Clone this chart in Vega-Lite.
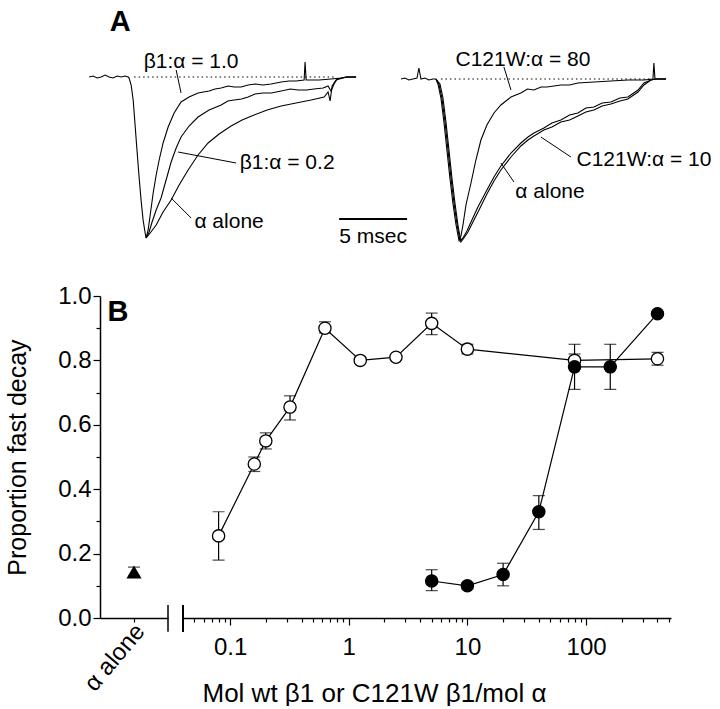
{
  "$schema": "https://vega.github.io/schema/vega-lite/v6.json",
  "background": "white",
  "padding": {"left": 5, "top": 0, "right": 0, "bottom": 0},
  "config": {
    "view": {"stroke": null},
    "font": "Liberation Sans",
    "axis": {
      "labelFont": "Liberation Sans", "titleFont": "Liberation Sans",
      "labelColor": "black", "titleColor": "black", "domainColor": "black", "tickColor": "black",
      "domainWidth": 1.5, "tickWidth": 1.2, "grid": false,
      "labelFontSize": 24, "titleFontSize": 25, "titleFontWeight": "normal", "labelOverlap": false
    },
    "text": {"font": "Liberation Sans", "color": "black"}
  },
  "datasets": {
    "traces": [
      {"panel":"L","trace":"L0","t":0,"i":0},{"panel":"L","trace":"L0","t":0.29,"i":1},{"panel":"L","trace":"L0","t":0.59,"i":-1},{"panel":"L","trace":"L0","t":0.88,"i":0},{"panel":"L","trace":"L0","t":1.18,"i":2},{"panel":"L","trace":"L0","t":1.47,"i":0},{"panel":"L","trace":"L0","t":1.76,"i":-1},{"panel":"L","trace":"L0","t":2.06,"i":1},{"panel":"L","trace":"L0","t":2.35,"i":0},{"panel":"L","trace":"L0","t":2.65,"i":1},{"panel":"L","trace":"L0","t":2.87,"i":0},{"panel":"L","trace":"L0","t":2.94,"i":-1},{"panel":"L","trace":"L0","t":3.09,"i":-8},{"panel":"L","trace":"L0","t":3.24,"i":-23},{"panel":"L","trace":"L0","t":3.38,"i":-48},{"panel":"L","trace":"L0","t":3.53,"i":-75},{"panel":"L","trace":"L0","t":3.68,"i":-101},{"panel":"L","trace":"L0","t":3.82,"i":-123},{"panel":"L","trace":"L0","t":3.97,"i":-143},{"panel":"L","trace":"L0","t":4.12,"i":-156},{"panel":"L","trace":"L0","t":4.19,"i":-161},

      {"panel":"L","trace":"L1","t":4.19,"i":-161},{"panel":"L","trace":"L1","t":4.34,"i":-153},{"panel":"L","trace":"L1","t":4.49,"i":-138},{"panel":"L","trace":"L1","t":4.71,"i":-116},{"panel":"L","trace":"L1","t":4.93,"i":-98},{"panel":"L","trace":"L1","t":5.15,"i":-83},{"panel":"L","trace":"L1","t":5.44,"i":-66},{"panel":"L","trace":"L1","t":5.81,"i":-50},{"panel":"L","trace":"L1","t":6.25,"i":-36},{"panel":"L","trace":"L1","t":6.76,"i":-25},{"panel":"L","trace":"L1","t":7.35,"i":-20},{"panel":"L","trace":"L1","t":8.01,"i":-16},{"panel":"L","trace":"L1","t":8.82,"i":-14},{"panel":"L","trace":"L1","t":9.26,"i":-12},{"panel":"L","trace":"L1","t":9.71,"i":-11},{"panel":"L","trace":"L1","t":10.22,"i":-9},{"panel":"L","trace":"L1","t":10.66,"i":-10},{"panel":"L","trace":"L1","t":11.18,"i":-10},{"panel":"L","trace":"L1","t":11.69,"i":-8},{"panel":"L","trace":"L1","t":12.21,"i":-7},{"panel":"L","trace":"L1","t":12.79,"i":-8},{"panel":"L","trace":"L1","t":13.38,"i":-7},{"panel":"L","trace":"L1","t":14.12,"i":-5},{"panel":"L","trace":"L1","t":14.71,"i":-4},{"panel":"L","trace":"L1","t":15.22,"i":-4},{"panel":"L","trace":"L1","t":15.81,"i":-3},{"panel":"L","trace":"L1","t":15.88,"i":15},{"panel":"L","trace":"L1","t":15.96,"i":-3},{"panel":"L","trace":"L1","t":16.91,"i":-3},{"panel":"L","trace":"L1","t":17.79,"i":-2},{"panel":"L","trace":"L1","t":18.53,"i":-1},{"panel":"L","trace":"L1","t":19.12,"i":0},{"panel":"L","trace":"L1","t":19.63,"i":0},

      {"panel":"L","trace":"L2","t":4.19,"i":-161},{"panel":"L","trace":"L2","t":4.41,"i":-155},{"panel":"L","trace":"L2","t":4.63,"i":-145},{"panel":"L","trace":"L2","t":4.93,"i":-133},{"panel":"L","trace":"L2","t":5.29,"i":-121},{"panel":"L","trace":"L2","t":5.66,"i":-103},{"panel":"L","trace":"L2","t":6.03,"i":-85},{"panel":"L","trace":"L2","t":6.4,"i":-71},{"panel":"L","trace":"L2","t":6.76,"i":-60},{"panel":"L","trace":"L2","t":7.35,"i":-49},{"panel":"L","trace":"L2","t":8.01,"i":-40},{"panel":"L","trace":"L2","t":8.82,"i":-33},{"panel":"L","trace":"L2","t":9.71,"i":-28},{"panel":"L","trace":"L2","t":10.2,"i":-24},{"panel":"L","trace":"L2","t":10.66,"i":-23},{"panel":"L","trace":"L2","t":11.2,"i":-22},{"panel":"L","trace":"L2","t":11.69,"i":-20},{"panel":"L","trace":"L2","t":12.2,"i":-17},{"panel":"L","trace":"L2","t":12.79,"i":-16},{"panel":"L","trace":"L2","t":13.4,"i":-16},{"panel":"L","trace":"L2","t":14.12,"i":-14},{"panel":"L","trace":"L2","t":14.8,"i":-12},{"panel":"L","trace":"L2","t":15.37,"i":-13},{"panel":"L","trace":"L2","t":16.0,"i":-13},{"panel":"L","trace":"L2","t":16.54,"i":-12},{"panel":"L","trace":"L2","t":17.21,"i":-11},{"panel":"L","trace":"L2","t":17.57,"i":-9},{"panel":"L","trace":"L2","t":17.79,"i":-14},{"panel":"L","trace":"L2","t":18.01,"i":-7},{"panel":"L","trace":"L2","t":18.24,"i":-2},{"panel":"L","trace":"L2","t":18.9,"i":0},{"panel":"L","trace":"L2","t":19.63,"i":0},

      {"panel":"L","trace":"L3","t":4.19,"i":-161},{"panel":"L","trace":"L3","t":4.49,"i":-156},{"panel":"L","trace":"L3","t":4.93,"i":-148},{"panel":"L","trace":"L3","t":5.44,"i":-135},{"panel":"L","trace":"L3","t":6.03,"i":-123},{"panel":"L","trace":"L3","t":6.62,"i":-108},{"panel":"L","trace":"L3","t":7.28,"i":-93},{"panel":"L","trace":"L3","t":8.01,"i":-78},{"panel":"L","trace":"L3","t":8.75,"i":-66},{"panel":"L","trace":"L3","t":9.56,"i":-57},{"panel":"L","trace":"L3","t":10.44,"i":-49},{"panel":"L","trace":"L3","t":11.25,"i":-43},{"panel":"L","trace":"L3","t":12.13,"i":-38},{"panel":"L","trace":"L3","t":13.09,"i":-33},{"panel":"L","trace":"L3","t":14.12,"i":-29},{"panel":"L","trace":"L3","t":15.22,"i":-26},{"panel":"L","trace":"L3","t":16.32,"i":-23},{"panel":"L","trace":"L3","t":17.28,"i":-20},{"panel":"L","trace":"L3","t":17.57,"i":-15},{"panel":"L","trace":"L3","t":17.72,"i":-24},{"panel":"L","trace":"L3","t":17.87,"i":-9},{"panel":"L","trace":"L3","t":18.16,"i":-3},{"panel":"L","trace":"L3","t":18.9,"i":0},{"panel":"L","trace":"L3","t":19.63,"i":0},

      {"panel":"R","trace":"R0","t":0,"i":-2},{"panel":"R","trace":"R0","t":0.29,"i":-1},{"panel":"R","trace":"R0","t":0.59,"i":-3},{"panel":"R","trace":"R0","t":0.88,"i":-2},{"panel":"R","trace":"R0","t":1.18,"i":-1},{"panel":"R","trace":"R0","t":1.32,"i":9},{"panel":"R","trace":"R0","t":1.47,"i":-2},{"panel":"R","trace":"R0","t":1.76,"i":-1},{"panel":"R","trace":"R0","t":2.06,"i":-3},{"panel":"R","trace":"R0","t":2.35,"i":-2},{"panel":"R","trace":"R0","t":2.57,"i":-2},

      {"panel":"R","trace":"R1","t":2.57,"i":-2},{"panel":"R","trace":"R1","t":2.72,"i":-7},{"panel":"R","trace":"R1","t":2.94,"i":-21},{"panel":"R","trace":"R1","t":3.16,"i":-45},{"panel":"R","trace":"R1","t":3.38,"i":-73},{"panel":"R","trace":"R1","t":3.6,"i":-101},{"panel":"R","trace":"R1","t":3.82,"i":-126},{"panel":"R","trace":"R1","t":4.04,"i":-147},{"panel":"R","trace":"R1","t":4.26,"i":-163},{"panel":"R","trace":"R1","t":4.41,"i":-159},{"panel":"R","trace":"R1","t":4.56,"i":-148},{"panel":"R","trace":"R1","t":4.78,"i":-128},{"panel":"R","trace":"R1","t":5.15,"i":-106},{"panel":"R","trace":"R1","t":5.51,"i":-83},{"panel":"R","trace":"R1","t":5.88,"i":-63},{"panel":"R","trace":"R1","t":6.32,"i":-48},{"panel":"R","trace":"R1","t":6.84,"i":-36},{"panel":"R","trace":"R1","t":7.35,"i":-28},{"panel":"R","trace":"R1","t":8.09,"i":-20},{"panel":"R","trace":"R1","t":8.82,"i":-16},{"panel":"R","trace":"R1","t":9.3,"i":-12},{"panel":"R","trace":"R1","t":9.78,"i":-13},{"panel":"R","trace":"R1","t":10.3,"i":-10},{"panel":"R","trace":"R1","t":10.74,"i":-10},{"panel":"R","trace":"R1","t":11.76,"i":-8},{"panel":"R","trace":"R1","t":12.4,"i":-8},{"panel":"R","trace":"R1","t":13.01,"i":-6},{"panel":"R","trace":"R1","t":14.19,"i":-5},{"panel":"R","trace":"R1","t":15.44,"i":-4},{"panel":"R","trace":"R1","t":16.69,"i":-3},{"panel":"R","trace":"R1","t":17.87,"i":-3},{"panel":"R","trace":"R1","t":18.53,"i":-2},{"panel":"R","trace":"R1","t":18.6,"i":14},{"panel":"R","trace":"R1","t":18.68,"i":-2},{"panel":"R","trace":"R1","t":19.12,"i":-2},{"panel":"R","trace":"R1","t":19.49,"i":-2},

      {"panel":"R","trace":"R2","t":2.57,"i":-2},{"panel":"R","trace":"R2","t":2.79,"i":-7},{"panel":"R","trace":"R2","t":3.01,"i":-21},{"panel":"R","trace":"R2","t":3.24,"i":-45},{"panel":"R","trace":"R2","t":3.46,"i":-73},{"panel":"R","trace":"R2","t":3.68,"i":-101},{"panel":"R","trace":"R2","t":3.9,"i":-126},{"panel":"R","trace":"R2","t":4.12,"i":-147},{"panel":"R","trace":"R2","t":4.34,"i":-164},{"panel":"R","trace":"R2","t":4.56,"i":-161},{"panel":"R","trace":"R2","t":4.85,"i":-154},{"panel":"R","trace":"R2","t":5.15,"i":-145},{"panel":"R","trace":"R2","t":5.66,"i":-130},{"panel":"R","trace":"R2","t":6.32,"i":-113},{"panel":"R","trace":"R2","t":6.84,"i":-100},{"panel":"R","trace":"R2","t":7.35,"i":-89},{"panel":"R","trace":"R2","t":8.09,"i":-76},{"panel":"R","trace":"R2","t":8.82,"i":-66},{"panel":"R","trace":"R2","t":9.34,"i":-60},{"panel":"R","trace":"R2","t":9.78,"i":-56},{"panel":"R","trace":"R2","t":10.51,"i":-51},{"panel":"R","trace":"R2","t":11.1,"i":-46},{"panel":"R","trace":"R2","t":11.76,"i":-43},{"panel":"R","trace":"R2","t":12.4,"i":-38},{"panel":"R","trace":"R2","t":13.01,"i":-36},{"panel":"R","trace":"R2","t":13.6,"i":-31},{"panel":"R","trace":"R2","t":14.19,"i":-30},{"panel":"R","trace":"R2","t":14.8,"i":-26},{"panel":"R","trace":"R2","t":15.44,"i":-25},{"panel":"R","trace":"R2","t":16.1,"i":-21},{"panel":"R","trace":"R2","t":16.69,"i":-20},{"panel":"R","trace":"R2","t":17.43,"i":-13},{"panel":"R","trace":"R2","t":17.87,"i":-6},{"panel":"R","trace":"R2","t":18.38,"i":-3},{"panel":"R","trace":"R2","t":18.75,"i":-2},{"panel":"R","trace":"R2","t":19.49,"i":-2},

      {"panel":"R","trace":"R3","t":2.57,"i":-2},{"panel":"R","trace":"R3","t":2.87,"i":-7},{"panel":"R","trace":"R3","t":3.09,"i":-21},{"panel":"R","trace":"R3","t":3.31,"i":-45},{"panel":"R","trace":"R3","t":3.53,"i":-73},{"panel":"R","trace":"R3","t":3.75,"i":-101},{"panel":"R","trace":"R3","t":3.97,"i":-126},{"panel":"R","trace":"R3","t":4.19,"i":-148},{"panel":"R","trace":"R3","t":4.41,"i":-165},{"panel":"R","trace":"R3","t":4.63,"i":-161},{"panel":"R","trace":"R3","t":4.93,"i":-155},{"panel":"R","trace":"R3","t":5.22,"i":-147},{"panel":"R","trace":"R3","t":5.74,"i":-133},{"panel":"R","trace":"R3","t":6.32,"i":-117},{"panel":"R","trace":"R3","t":6.84,"i":-104},{"panel":"R","trace":"R3","t":7.35,"i":-93},{"panel":"R","trace":"R3","t":8.09,"i":-80},{"panel":"R","trace":"R3","t":8.82,"i":-69},{"panel":"R","trace":"R3","t":9.34,"i":-63},{"panel":"R","trace":"R3","t":9.78,"i":-59},{"panel":"R","trace":"R3","t":10.51,"i":-53},{"panel":"R","trace":"R3","t":11.1,"i":-50},{"panel":"R","trace":"R3","t":11.76,"i":-45},{"panel":"R","trace":"R3","t":12.4,"i":-43},{"panel":"R","trace":"R3","t":13.01,"i":-39},{"panel":"R","trace":"R3","t":13.6,"i":-35},{"panel":"R","trace":"R3","t":14.19,"i":-33},{"panel":"R","trace":"R3","t":14.8,"i":-29},{"panel":"R","trace":"R3","t":15.44,"i":-27},{"panel":"R","trace":"R3","t":16.1,"i":-24},{"panel":"R","trace":"R3","t":16.69,"i":-22},{"panel":"R","trace":"R3","t":17.43,"i":-15},{"panel":"R","trace":"R3","t":17.87,"i":-8},{"panel":"R","trace":"R3","t":18.38,"i":-3},{"panel":"R","trace":"R3","t":18.75,"i":-2},{"panel":"R","trace":"R3","t":19.49,"i":-2}
    ],
    "labels": [
      {"panel":"L","text":"β1:α = 1.0","t":7.5,"i":15},
      {"panel":"L","text":"β1:α = 0.2","t":14.56,"i":-86},
      {"panel":"L","text":"α alone","t":10.29,"i":-145},
      {"panel":"L","text":"5 msec","t":20.88,"i":-160},
      {"panel":"R","text":"C121W:α = 80","t":8.97,"i":17},
      {"panel":"R","text":"C121W:α = 10","t":17.87,"i":-83},
      {"panel":"R","text":"α alone","t":10.96,"i":-115}
    ],
    "tags": [
      {"panel":"L","text":"A","t":2.28,"i":55}
    ],
    "annot": [
      {"panel":"L","kind":"baseline","t":3.31,"t2":18.01,"i":0},
      {"panel":"L","kind":"scalebar","t":18.38,"t2":23.38,"i":-142},
      {"panel":"R","kind":"baseline","t":2.94,"t2":18.38,"i":-2}
    ],
    "leaders": [
      {"panel":"L","t":6.4,"i":7,"t2":6.76,"i2":-16},
      {"panel":"L","t":6.54,"i":-75,"t2":10.81,"i2":-86},
      {"panel":"L","t":6.03,"i":-121,"t2":7.5,"i2":-141},
      {"panel":"R","t":7.57,"i":10,"t2":8.09,"i2":-13},
      {"panel":"R","t":10.29,"i":-60,"t2":12.5,"i2":-80},
      {"panel":"R","t":7.35,"i":-86,"t2":8.31,"i2":-105}
    ],
    "decay": [
      {"construct":"wt β1","ratio":0.08,"p":0.255,"lo":0.18,"hi":0.33},
      {"construct":"wt β1","ratio":0.16,"p":0.478,"lo":0.455,"hi":0.5},
      {"construct":"wt β1","ratio":0.2,"p":0.55,"lo":0.525,"hi":0.575},
      {"construct":"wt β1","ratio":0.32,"p":0.655,"lo":0.615,"hi":0.69},
      {"construct":"wt β1","ratio":0.63,"p":0.9,"lo":0.885,"hi":0.92},
      {"construct":"wt β1","ratio":1.25,"p":0.8,"lo":0.792,"hi":0.81},
      {"construct":"wt β1","ratio":2.5,"p":0.81,"lo":0.81,"hi":0.81},
      {"construct":"wt β1","ratio":5,"p":0.915,"lo":0.88,"hi":0.947},
      {"construct":"wt β1","ratio":10,"p":0.835,"lo":0.82,"hi":0.85},
      {"construct":"wt β1","ratio":80,"p":0.8,"lo":0.78,"hi":0.82},
      {"construct":"wt β1","ratio":400,"p":0.805,"lo":0.785,"hi":0.825},
      {"construct":"C121W β1","ratio":5,"p":0.115,"lo":0.085,"hi":0.15},
      {"construct":"C121W β1","ratio":10,"p":0.1,"lo":0.09,"hi":0.11},
      {"construct":"C121W β1","ratio":20,"p":0.135,"lo":0.1,"hi":0.17},
      {"construct":"C121W β1","ratio":40,"p":0.33,"lo":0.275,"hi":0.38},
      {"construct":"C121W β1","ratio":80,"p":0.78,"lo":0.71,"hi":0.85},
      {"construct":"C121W β1","ratio":160,"p":0.78,"lo":0.71,"hi":0.85},
      {"construct":"C121W β1","ratio":400,"p":0.945,"lo":0.94,"hi":0.95}
    ],
    "alone": [
      {"group":"α alone","p":0.143,"lo":0.13,"hi":0.158}
    ]
  },
  "vconcat": [
    {
      "width": 566, "height": 250,
      "layer": [
        {
          "encoding": {
            "x": {"field": "t", "type": "quantitative", "scale": {"domain": [0.8, 42.42], "nice": false, "zero": false}, "axis": null},
            "y": {"field": "i", "type": "quantitative", "scale": {"domain": [-173, 77], "nice": false, "zero": false}, "axis": null}
          },
          "layer": [
            {"data": {"name": "traces"}, "transform": [{"filter": "datum.panel == 'L'"}],
             "mark": {"type": "line", "color": "black", "strokeWidth": 1.1},
             "encoding": {"detail": {"field": "trace"}}},
            {"data": {"name": "annot"}, "transform": [{"filter": "datum.panel == 'L' && datum.kind == 'baseline'"}],
             "mark": {"type": "rule", "color": "black", "strokeWidth": 1, "strokeDash": [1.5, 3]},
             "encoding": {"x2": {"field": "t2"}}},
            {"data": {"name": "annot"}, "transform": [{"filter": "datum.kind == 'scalebar'"}],
             "mark": {"type": "rule", "color": "black", "strokeWidth": 2.2},
             "encoding": {"x2": {"field": "t2"}}},
            {"data": {"name": "leaders"}, "transform": [{"filter": "datum.panel == 'L'"}],
             "mark": {"type": "rule", "color": "black", "strokeWidth": 1},
             "encoding": {"x2": {"field": "t2"}, "y2": {"field": "i2"}}},
            {"data": {"name": "labels"}, "transform": [{"filter": "datum.panel == 'L'"}],
             "mark": {"type": "text", "fontSize": 21, "align": "center", "baseline": "middle"},
             "encoding": {"text": {"field": "text"}}},
            {"data": {"name": "tags"},
             "mark": {"type": "text", "fontSize": 29, "fontWeight": "bold", "align": "center", "baseline": "middle"},
             "encoding": {"text": {"field": "text"}}}
          ]
        },
        {
          "encoding": {
            "x": {"field": "t", "type": "quantitative", "scale": {"domain": [-22.13, 19.49], "nice": false, "zero": false}, "axis": null},
            "y": {"field": "i", "type": "quantitative", "axis": null}
          },
          "layer": [
            {"data": {"name": "traces"}, "transform": [{"filter": "datum.panel == 'R'"}],
             "mark": {"type": "line", "color": "black", "strokeWidth": 1.1},
             "encoding": {"detail": {"field": "trace"}}},
            {"data": {"name": "annot"}, "transform": [{"filter": "datum.panel == 'R' && datum.kind == 'baseline'"}],
             "mark": {"type": "rule", "color": "black", "strokeWidth": 1, "strokeDash": [1.5, 3]},
             "encoding": {"x2": {"field": "t2"}}},
            {"data": {"name": "leaders"}, "transform": [{"filter": "datum.panel == 'R'"}],
             "mark": {"type": "rule", "color": "black", "strokeWidth": 1},
             "encoding": {"x2": {"field": "t2"}, "y2": {"field": "i2"}}},
            {"data": {"name": "labels"}, "transform": [{"filter": "datum.panel == 'R'"}],
             "mark": {"type": "text", "fontSize": 21, "align": "center", "baseline": "middle"},
             "encoding": {"text": {"field": "text"}}}
          ]
        }
      ],
      "resolve": {"scale": {"x": "independent"}}
    },
    {
      "hconcat": [
        {
          "width": 68, "height": 322,
          "data": {"name": "alone"},
          "encoding": {
            "y": {"field": "p", "type": "quantitative", "scale": {"domain": [0, 1], "nice": false},
                  "axis": {"title": "Proportion fast decay", "titlePadding": 27,
                           "values": [0,0.1,0.2,0.3,0.4,0.5,0.6,0.7,0.8,0.9,1.0],
                           "labelExpr": "round(datum.value*10) % 2 == 0 ? format(datum.value, '.1f') : ''",
                           "tickSize": {"condition": {"test": "round(datum.value*10) % 2 == 0", "value": 7}, "value": 4},
                           "labelPadding": 2}}
          },
          "layer": [
            {"mark": {"type": "errorbar", "color": "black", "ticks": {"size": 12}, "thickness": 1.2},
             "encoding": {
               "x": {"field": "group", "type": "nominal", "scale": {"type": "point", "padding": 0.5},
                     "axis": {"title": null, "labelAngle": -50, "labelOffset": 6, "tickSize": 4, "labelPadding": 5}},
               "y": {"field": "lo", "type": "quantitative"},
               "y2": {"field": "hi"}}},
            {"mark": {"type": "point", "shape": "triangle-up", "filled": true, "color": "black", "size": 230, "opacity": 1},
             "encoding": {"x": {"field": "group", "type": "nominal"}}},
            {"mark": {"type": "rule", "color": "black", "strokeWidth": 1.5},
             "encoding": {"x": {"value": "width"}, "y": {"datum": -0.043}, "y2": {"datum": 0.04}}},
            {"mark": {"type": "text", "fontSize": 29, "fontWeight": "bold", "align": "center", "baseline": "middle", "dx": -16},
             "encoding": {"x": {"datum": "α alone"}, "y": {"datum": 0.95}, "text": {"value": "B"}}}
          ]
        },
        {
          "width": 488, "height": 322,
          "data": {"name": "decay"},
          "encoding": {
            "x": {"field": "ratio", "type": "quantitative",
                  "scale": {"type": "log", "domain": [0.0401, 520], "nice": false},
                  "axis": {"title": "Mol wt β1 or C121W β1/mol α", "titleX": 191, "titlePadding": 21, "titleFontSize": 26,
                           "values": [0.05,0.06,0.07,0.08,0.09,0.1,0.2,0.3,0.4,0.5,0.6,0.7,0.8,0.9,1,2,3,4,5,6,7,8,9,10,20,30,40,50,60,70,80,90,100,200,300,400,500],
                           "labelExpr": "datum.value == 0.1 ? '0.1' : datum.value == 1 ? '1' : datum.value == 10 ? '10' : datum.value == 100 ? '100' : ''",
                           "tickSize": {"condition": {"test": "datum.value == 0.1 || datum.value == 1 || datum.value == 10 || datum.value == 100", "value": 7}, "value": 4},
                           "labelPadding": 10}},
            "y": {"field": "p", "type": "quantitative", "scale": {"domain": [0, 1], "nice": false}, "axis": null}
          },
          "layer": [
            {"mark": {"type": "line", "color": "black", "strokeWidth": 1.2},
             "encoding": {"detail": {"field": "construct"}}},
            {"mark": {"type": "errorbar", "color": "black", "ticks": {"size": 12}, "thickness": 1.2},
             "encoding": {"y": {"field": "lo", "type": "quantitative"}, "y2": {"field": "hi"}, "detail": {"field": "construct"}}},
            {"mark": {"type": "point", "shape": "circle", "filled": true, "stroke": "black", "strokeWidth": 1.3, "size": 150, "opacity": 1},
             "encoding": {"fill": {"field": "construct", "type": "nominal", "scale": {"domain": ["wt β1", "C121W β1"], "range": ["white", "black"]}, "legend": null}}},
            {"mark": {"type": "rule", "color": "black", "strokeWidth": 1.5},
             "encoding": {"x": {"datum": 0.0401}, "y": {"datum": -0.043}, "y2": {"datum": 0.04}}}
          ]
        }
      ],
      "spacing": 15,
      "bounds": "flush",
      "resolve": {"scale": {"x": "independent", "y": "independent"}}
    }
  ],
  "spacing": 46,
  "bounds": "flush",
  "resolve": {"scale": {"x": "independent", "y": "independent"}}
}
